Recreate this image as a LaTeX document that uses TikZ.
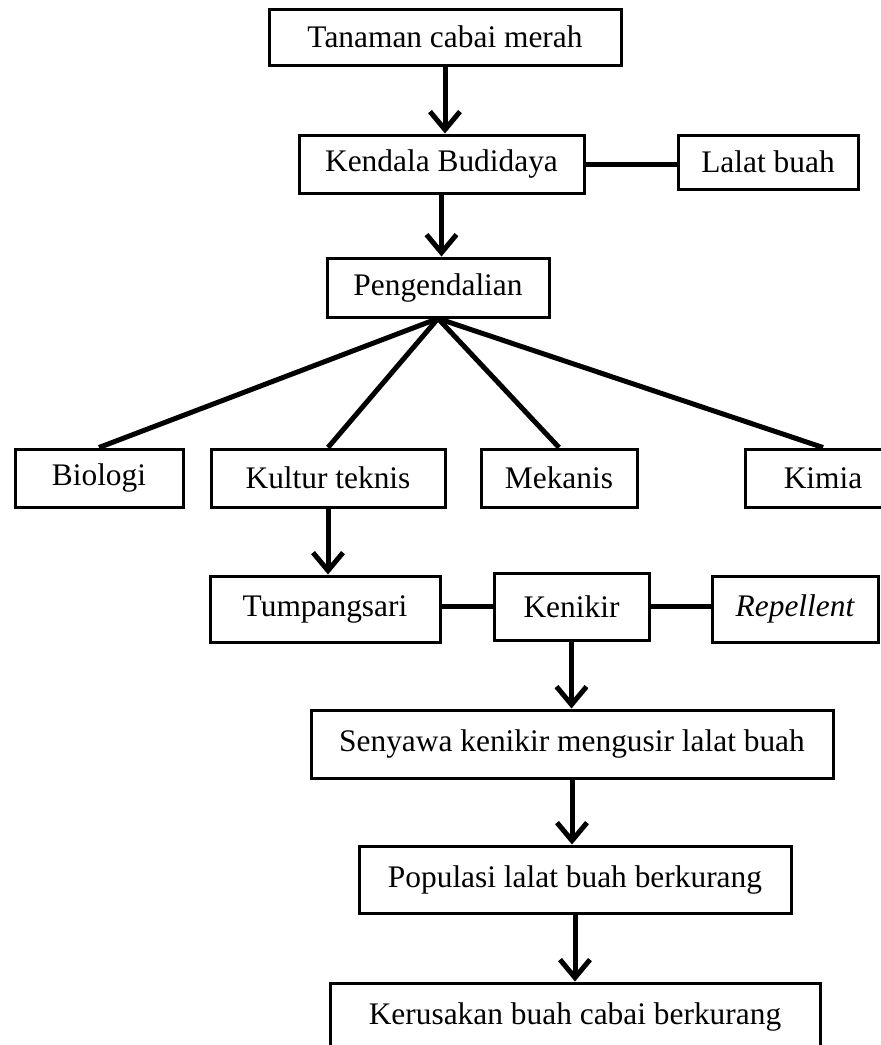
\documentclass[tikz,border=0pt]{standalone}
\usepackage{fontspec}
\setmainfont{Liberation Serif}
\usetikzlibrary{arrows.meta,positioning}

\begin{document}
\begin{tikzpicture}[x=0.5pt,y=-0.5pt,
    box/.style={draw,line width=1.5pt,inner sep=0pt,font=\fontsize{15.7}{19}\selectfont},
    link/.style={line width=2.5pt},
    flow/.style={line width=2.5pt,-{Straight Barb[length=9pt,width=15pt]}}]
    % Frame
    \useasboundingbox (0,0) rectangle (881,1045);
    \clip (0,0) rectangle (881,1045);
    \fill[white] (0,0) rectangle (881,1045);

    % Top chain
    \node[box,minimum width=176pt,minimum height=28pt] (tanaman) at (445,37) {Tanaman cabai merah};
    \node[box,minimum width=142.5pt,minimum height=29pt] (kendala) at (441.5,164) {Kendala Budidaya};
    \node[box,minimum width=90pt,minimum height=27pt] (lalat) at (768,162) {Lalat buah};
    \node[box,minimum width=111pt,minimum height=29.5pt] (pengendalian) at (438,287.5) {Pengendalian};

    % Control methods
    \node[box,minimum width=84pt,minimum height=29pt] (biologi) at (99,478) {Biologi};
    \node[box,minimum width=117pt,minimum height=29pt] (kultur) at (328,478) {Kultur teknis};
    \node[box,minimum width=78pt,minimum height=29pt] (mekanis) at (559,478) {Mekanis};
    \node[box,minimum width=78pt,minimum height=29pt] (kimia) at (823,478) {Kimia};

    % Intercropping row
    \node[box,minimum width=115pt,minimum height=33pt] (tumpang) at (325,609) {Tumpangsari};
    \node[box,minimum width=77.5pt,minimum height=33.5pt] (kenikir) at (571.5,606.5) {Kenikir};
    \node[box,minimum width=83pt,minimum height=33pt] (repellent) at (795,609) {\itshape Repellent};

    % Outcome chain
    \node[box,minimum width=261pt,minimum height=34pt] (senyawa) at (572,744) {Senyawa kenikir mengusir lalat buah};
    \node[box,minimum width=216pt,minimum height=33.5pt] (populasi) at (575,879.5) {Populasi lalat buah berkurang};
    \node[box,minimum width=245pt,minimum height=33.5pt] (kerusakan) at (575,1016.5) {Kerusakan buah cabai berkurang};

    % Connectors
    \draw[flow] (tanaman.south) -- (tanaman.south |- kendala.north);
    \draw[link] (kendala.east) -- (kendala.east -| lalat.west);
    \draw[flow] (kendala.south) -- (kendala.south |- pengendalian.north);
    \foreach \m in {biologi,kultur,mekanis,kimia}
        \draw[link] (pengendalian.south) -- (\m.north);
    \draw[flow] (kultur.south) -- (kultur.south |- tumpang.north);
    \draw[link] (kenikir.west -| tumpang.east) -- (kenikir.west);
    \draw[link] (kenikir.east) -- (kenikir.east -| repellent.west);
    \draw[flow] (kenikir.south) -- (kenikir.south |- senyawa.north);
    \draw[flow] (senyawa.south) -- (senyawa.south |- populasi.north);
    \draw[flow] (populasi.south) -- (populasi.south |- kerusakan.north);
\end{tikzpicture}
\end{document}
